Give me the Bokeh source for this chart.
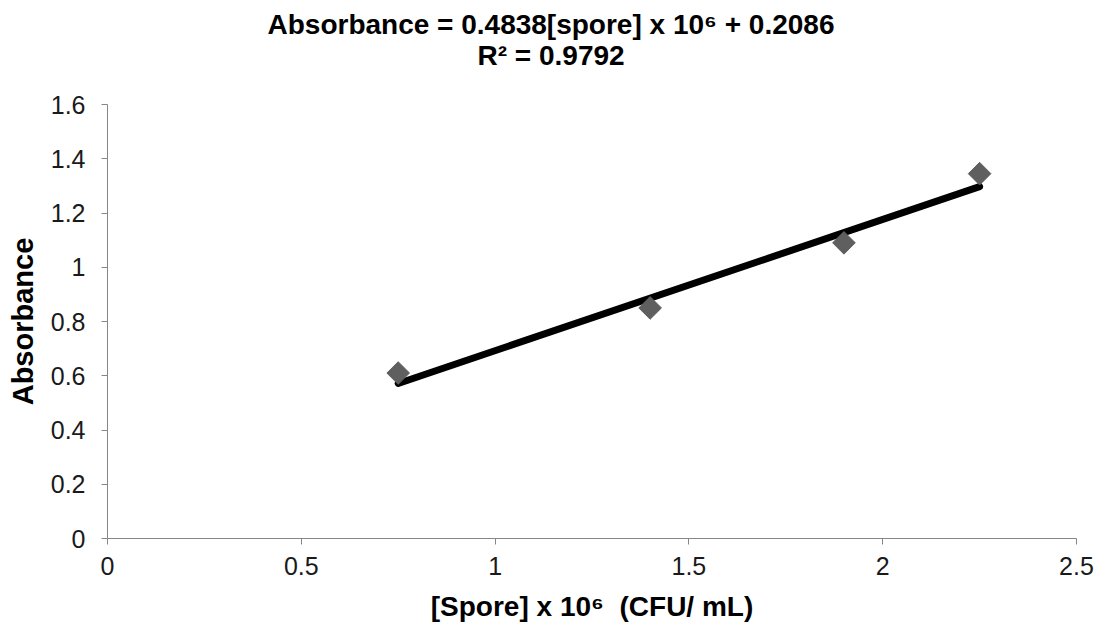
import math
from bokeh.plotting import figure
from bokeh.models import Range1d, FixedTicker, Title
from bokeh.embed import file_html
from bokeh.resources import INLINE

# Standard curve: spore concentration vs absorbance
spore = [0.75, 1.4, 1.9, 2.25]
absorbance = [0.61, 0.85, 1.09, 1.345]

# Linear fit reported for the curve
slope = 0.4838
intercept = 0.2086
r_squared = 0.9792

x_ticks = [0, 0.5, 1, 1.5, 2, 2.5]
y_ticks = [0, 0.2, 0.4, 0.6, 0.8, 1.0, 1.2, 1.4, 1.6]

FONT = "Liberation Sans"

p = figure(width=1099, height=625, output_backend="svg", toolbar_location=None,
           x_range=Range1d(0, 2.5), y_range=Range1d(0, 1.6),
           min_border_left=107, min_border_right=23, min_border_top=0, min_border_bottom=87)
p.outline_line_color = None
p.xgrid.visible = False
p.ygrid.visible = False

for ax in (p.xaxis[0], p.yaxis[0]):
    ax.axis_line_color = "#868686"
    ax.major_tick_line_color = "#868686"
    ax.major_tick_in = 0
    ax.major_tick_out = 6
    ax.minor_tick_line_color = None
    ax.major_label_text_font = FONT
    ax.major_label_text_font_size = "25px"
    ax.major_label_text_color = "#1a1a1a"
    ax.axis_label_text_font = FONT
    ax.axis_label_text_font_size = "28px"
    ax.axis_label_text_font_style = "bold"
    ax.axis_label_text_color = "#000000"

p.xaxis.ticker = FixedTicker(ticks=x_ticks)
p.yaxis.ticker = FixedTicker(ticks=y_ticks)
p.xaxis.major_label_overrides = {0: "0", 0.5: "0.5", 1: "1", 1.5: "1.5", 2: "2", 2.5: "2.5"}
p.yaxis.major_label_overrides = {0: "0", 1.0: "1"}
p.xaxis.major_label_standoff = 12
p.yaxis.major_label_standoff = 16
p.xaxis.axis_label = "[Spore] x 10\u2076 \u00a0(CFU/ mL)"
p.yaxis.axis_label = "Absorbance"
p.yaxis.axis_label_text_font_size = "29px"
p.xaxis.axis_label_standoff = 13
p.yaxis.axis_label_standoff = 9

# Trendline over the measured span
x_fit = [min(spore), max(spore)]
y_fit = [slope * x + intercept for x in x_fit]
p.line(x_fit, y_fit, line_color="black", line_width=7, line_cap="round")

p.scatter(spore, absorbance, marker="square", size=16, angle=math.pi / 4,
          fill_color="#5f5f5f", line_color="#5f5f5f")


def spacer(gap):
    # blank title row used as vertical padding in the heading area
    return Title(text=" ", text_font_size="1px", standoff=gap)


# Two-line heading (rows are stacked outward from the plot frame)
p.add_layout(spacer(29), "above")
p.add_layout(Title(text=f"R\u00b2 = {r_squared}", align="left", offset=370,
                   vertical_align="top", standoff=0,
                   text_font=FONT, text_font_size="28px", text_font_style="bold",
                   text_color="black"), "above")
p.add_layout(Title(text=f"Absorbance = {slope}[spore] x 10\u2076 + {intercept}",
                   align="left", offset=160, vertical_align="bottom", standoff=0,
                   text_font=FONT, text_font_size="28px", text_font_style="bold",
                   text_color="black"), "above")
p.add_layout(spacer(3), "above")

open("out.html", "w").write(file_html(p, INLINE))
